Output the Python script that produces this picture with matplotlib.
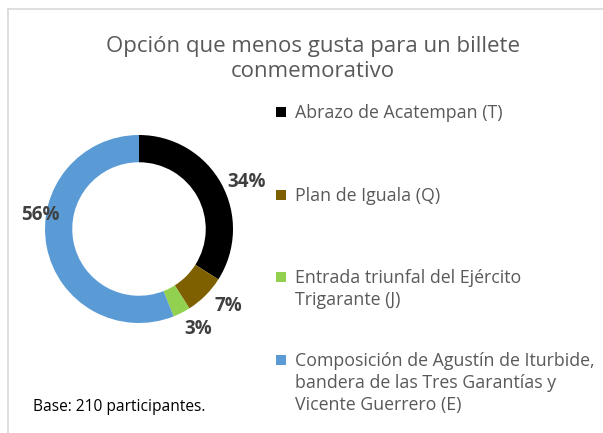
import numpy as np
import matplotlib
matplotlib.use('Agg')
import matplotlib.pyplot as plt
from matplotlib.patches import Rectangle
from matplotlib.lines import Line2D

plt.rcParams['font.family'] = ['Open Sans', 'DejaVu Sans']

title = 'Opción que menos gusta para un billete\nconmemorativo'
labels = ['Abrazo de Acatempan (T)',
          'Plan de Iguala (Q)',
          'Entrada triunfal del Ejército\nTrigarante (J)',
          'Composición de Agustín de Iturbide,\nbandera de las Tres Garantías y\nVicente Guerrero (E)']
values = [34, 7, 3, 56]
colors = ['#000000', '#7f6000', '#92d050', '#5b9bd5']
base_note = 'Base: 210 participantes.'

W, H = 603, 433
fig = plt.figure(figsize=(W / 100, H / 100), dpi=100)

# frame lines (top + left only visible)
fig.add_artist(Line2D([8 / W, 8 / W], [0, 1 - 9 / H], color='#d9d9d9', lw=1.2))
fig.add_artist(Line2D([8 / W, 1], [1 - 9 / H, 1 - 9 / H], color='#d9d9d9', lw=1.2))

# donut axes: centre (139, 229) px, radius 94 px
cx, cy, r = 139, 229, 94
lim = 1.2
size = 2 * lim * r
ax = fig.add_axes([(cx - size / 2) / W, (H - cy - size / 2) / H, size / W, size / H])
wedges, _, autotexts = ax.pie(values, colors=colors, startangle=90, counterclock=False,
                              radius=1.0, wedgeprops=dict(width=0.29, edgecolor='none'),
                              autopct='%d%%', pctdistance=1.24)
ax.set_xlim(-lim, lim)
ax.set_ylim(-lim, lim)
ax.set_aspect('equal')
ax.axis('off')
for t in autotexts:
    t.set_fontsize(13.5)
    t.set_fontweight('bold')
    t.set_color('#404040')
# label placement as in the original
autotexts[0].set_position((1.14, 0.50))
autotexts[1].set_position((0.95, -0.82))
autotexts[2].set_position((0.63, -1.06))
autotexts[3].set_position((-1.05, 0.15))

fig.text(313 / W, 1 - 59 / H, title, ha='center', va='center', fontsize=16,
         color='#595959', linespacing=1.25)

# legend, drawn by hand
leg_y = [112, 195, 277, 360]
for lab, col, y in zip(labels, colors, leg_y):
    fig.add_artist(Rectangle((276 / W, 1 - (y + 5) / H), 10 / W, 10 / H,
                             facecolor=col, edgecolor='none'))
    fig.text(295 / W, 1 - (y - 8) / H, lab, ha='left', va='top', fontsize=12.8,
             color='#595959', linespacing=1.3)

fig.text(33 / W, 1 - 407 / H, base_note, ha='left', va='center', fontsize=11.2,
         color='#000000')

fig.savefig('out.png', dpi=100)
